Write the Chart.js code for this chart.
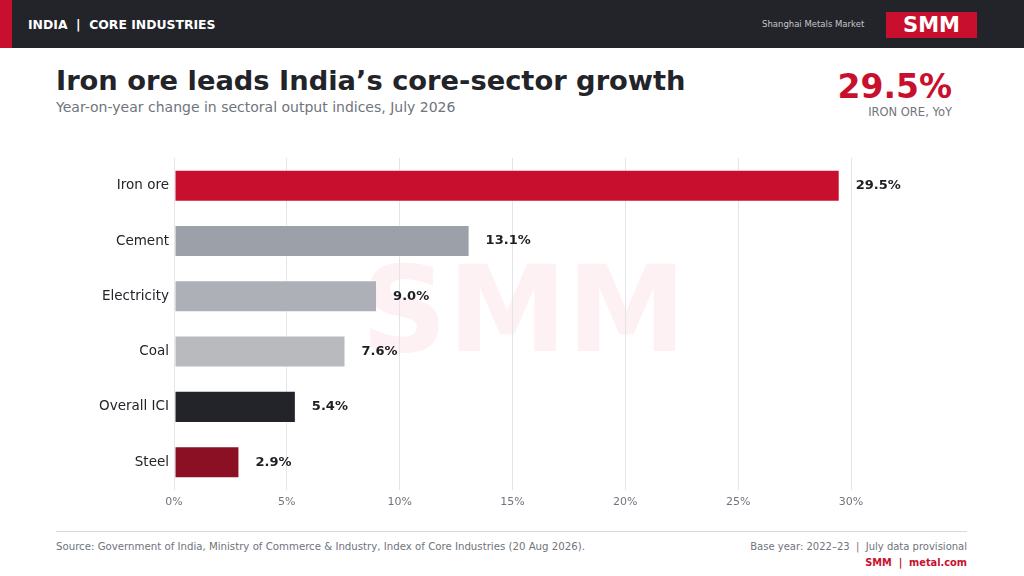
<!DOCTYPE html>
<html>
<head>
<meta charset="utf-8">
<script src="https://cdn.jsdelivr.net/npm/chart.js@4"></script>
<style>
  html, body { margin:0; padding:0; width:1024px; height:576px; overflow:hidden; background:#fff; font-family:"DejaVu Sans", sans-serif; }
  .abs { position:absolute; white-space:nowrap; }
  #hdr { position:absolute; left:0; top:0; width:1024px; height:48px; background:#222429; }
  #strip { position:absolute; left:0; top:0; width:12px; height:48px; background:#c8102e; }
  #wrap { position:absolute; left:56px; top:145px; width:920px; height:375px; }
</style>
</head>
<body>
<div id="hdr"></div>
<div id="strip"></div>
<div class="abs" style="left:28px;top:17px;font-size:12.4px;font-weight:bold;color:#fff;">INDIA &nbsp;|&nbsp; CORE INDUSTRIES</div>
<div class="abs" style="left:762px;top:19px;font-size:8.5px;color:#c4c6cc;">Shanghai Metals Market</div>
<div class="abs" style="left:886px;top:12px;width:91px;height:26px;background:#c8102e;"></div>
<div class="abs" style="left:886px;top:12px;width:91px;height:26px;line-height:26px;text-align:center;font-size:21px;font-weight:bold;color:#fff;">SMM</div>

<div class="abs" style="left:56px;top:65px;font-size:27.3px;font-weight:bold;color:#222429;">Iron ore leads India’s core-sector growth</div>
<div class="abs" style="left:56px;top:99px;font-size:14px;color:#70747d;">Year-on-year change in sectoral output indices, July 2026</div>

<div class="abs" style="right:72px;top:67px;font-size:33px;font-weight:bold;color:#c8102e;">29.5%</div>
<div class="abs" style="right:72px;top:105px;font-size:11.5px;color:#70747d;">IRON ORE, YoY</div>

<div class="abs" style="left:361px;top:240px;font-size:120px;font-weight:bold;color:#fdf1f3;">SMM</div>

<div id="wrap"><canvas id="c"></canvas></div>

<div class="abs" style="left:56px;top:531px;width:911px;height:1px;background:#d8d9dc;"></div>
<div class="abs" style="left:56px;top:541px;font-size:10.2px;color:#70747d;">Source: Government of India, Ministry of Commerce &amp; Industry, Index of Core Industries (20 Aug 2026).</div>
<div class="abs" style="right:57px;top:541px;font-size:10px;color:#70747d;">Base year: 2022–23 &nbsp;|&nbsp; July data provisional</div>
<div class="abs" style="right:57px;top:557px;font-size:9.8px;font-weight:bold;color:#c8102e;">SMM &nbsp;|&nbsp; metal.com</div>

<script>
const categories = ["Iron ore", "Cement", "Electricity", "Coal", "Overall ICI", "Steel"];
const yoyGrowth = [29.5, 13.1, 9.0, 7.6, 5.4, 2.9];
const barColors = ["#c8102e", "#9ca0a8", "#adb0b6", "#b8babe", "#222429", "#8b1024"];
const tickValues = [0, 5, 10, 15, 20, 25, 30];

const valueLabels = {
  id: 'valueLabels',
  afterDatasetsDraw(chart) {
    const ctx = chart.ctx;
    const meta = chart.getDatasetMeta(0);
    ctx.save();
    ctx.font = 'bold 13px "DejaVu Sans"';
    ctx.fillStyle = '#1e1f23';
    ctx.textAlign = 'left';
    ctx.textBaseline = 'middle';
    meta.data.forEach((bar, i) => {
      ctx.fillText(yoyGrowth[i].toFixed(1) + '%', bar.x + 16, bar.y);
    });
    ctx.restore();
  }
};

new Chart(document.getElementById('c'), {
  type: 'bar',
  data: {
    labels: categories,
    datasets: [{
      data: yoyGrowth,
      backgroundColor: barColors,
      borderColor: 'rgba(255,255,255,0.55)',
      borderWidth: 1,
      borderSkipped: false,
      categoryPercentage: 1,
      barPercentage: 0.58
    }]
  },
  options: {
    indexAxis: 'y',
    responsive: true,
    maintainAspectRatio: false,
    animation: false,
    layout: { padding: { top: 4, right: 125, bottom: 5, left: 0 } },
    plugins: { legend: { display: false }, tooltip: { enabled: false } },
    scales: {
      x: {
        min: 0, max: 30,
        afterBuildTicks(scale) { scale.ticks = tickValues.map(v => ({ value: v })); },
        grid: { color: '#e4e4e8', lineWidth: 1, drawTicks: false },
        border: { display: false },
        ticks: {
          padding: 6,
          color: '#70747d',
          font: { family: 'DejaVu Sans', size: 11 },
          callback: v => v + '%'
        }
      },
      y: {
        grid: { display: false, drawTicks: false },
        border: { display: false },
        afterFit(scale) { scale.width = 118; },
        ticks: {
          padding: 5,
          color: '#222429',
          font: { family: 'DejaVu Sans', size: 13.5 }
        }
      }
    }
  },
  plugins: [valueLabels]
});
</script>
</body>
</html>
